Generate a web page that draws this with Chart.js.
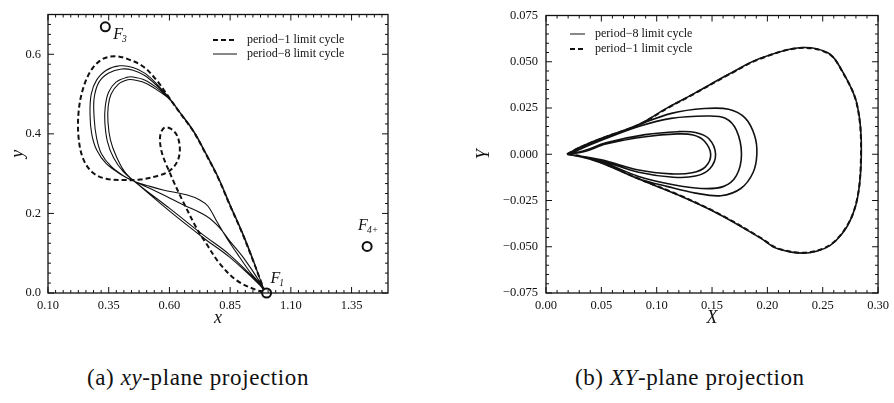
<!DOCTYPE html>
<html>
<head>
<meta charset="utf-8">
<script src="https://cdn.jsdelivr.net/npm/chart.js@4.4.1/dist/chart.umd.min.js"></script>
<style>
  body { margin: 0; background: #fff; width: 894px; height: 403px; position: relative; overflow: hidden; }
  .panel { position: absolute; top: 0; width: 447px; height: 330px; }
  .caption { position: absolute; top: 365px; line-height: 26px; font-family: 'Liberation Serif', serif; font-size: 23px; letter-spacing: 0.6px; color: #111; white-space: nowrap; }
</style>
</head>
<body>
<div class="panel" style="left:0"><canvas id="xyChart"></canvas></div>
<div class="panel" style="left:447px"><canvas id="bigXYChart"></canvas></div>
<div class="caption" style="left:87px">(a) <i>xy</i>-plane projection</div>
<div class="caption" style="left:575px">(b) <i>XY</i>-plane projection</div>

<script>
// ---- (a) xy-plane ----
const xTicksA = [0.10, 0.35, 0.60, 0.85, 1.10, 1.35];
const yTicksA = [0.0, 0.2, 0.4, 0.6];

// period-1 limit cycle (one closed orbit through F1)
const p1xA = [0.993, 0.97, 0.944, 0.90, 0.848, 0.80, 0.746, 0.70, 0.643, 0.60, 0.547, 0.49, 0.424, 0.376, 0.325, 0.28, 0.245, 0.226, 0.226, 0.245, 0.285, 0.34, 0.41, 0.478, 0.561, 0.60, 0.632, 0.643, 0.632, 0.605, 0.578, 0.562, 0.566, 0.585, 0.60, 0.615, 0.656, 0.711, 0.753, 0.807, 0.876, 0.958, 0.993];
const p1yA = [0.003, 0.04, 0.082, 0.15, 0.222, 0.29, 0.354, 0.405, 0.453, 0.49, 0.535, 0.57, 0.589, 0.595, 0.588, 0.562, 0.515, 0.455, 0.39, 0.337, 0.302, 0.287, 0.284, 0.285, 0.296, 0.307, 0.33, 0.36, 0.395, 0.413, 0.415, 0.395, 0.36, 0.325, 0.305, 0.283, 0.23, 0.164, 0.123, 0.074, 0.032, 0.0074, 0.003];

// period-8 limit cycle, loops split by null
const p8xA = [
  0.993, 0.97, 0.944, 0.90, 0.848, 0.80, 0.746, 0.70, 0.643, 0.60, 0.55, 0.50, 0.45, 0.396, 0.34, 0.30, 0.278, 0.273, 0.28, 0.30, 0.34, 0.40, 0.455, 0.52, 0.574, 0.67, 0.725, 0.759, 0.794, 0.835, 0.889, 0.935, 0.972, 0.993, null,
  0.993, 0.97, 0.945, 0.901, 0.85, 0.802, 0.748, 0.702, 0.645, 0.60, 0.55, 0.50, 0.45, 0.403, 0.35, 0.31, 0.29, 0.29, 0.30, 0.32, 0.36, 0.41, 0.455, 0.561, 0.656, 0.753, 0.807, 0.848, 0.903, 0.972, 0.993, null,
  0.993, 0.97, 0.944, 0.90, 0.848, 0.80, 0.746, 0.70, 0.643, 0.60, 0.55, 0.50, 0.45, 0.424, 0.38, 0.35, 0.336, 0.334, 0.345, 0.37, 0.41, 0.455, 0.602, 0.739, 0.848, 0.972, 0.993, null,
  0.993, 0.97, 0.946, 0.902, 0.85, 0.802, 0.748, 0.702, 0.645, 0.60, 0.55, 0.50, 0.45, 0.428, 0.39, 0.36, 0.348, 0.347, 0.357, 0.38, 0.415, 0.455, 0.602, 0.739, 0.848, 0.972, 0.993
];
const p8yA = [
  0.003, 0.04, 0.082, 0.15, 0.222, 0.29, 0.354, 0.405, 0.453, 0.49, 0.524, 0.552, 0.567, 0.571, 0.56, 0.535, 0.50, 0.45, 0.40, 0.36, 0.325, 0.298, 0.281, 0.268, 0.259, 0.247, 0.234, 0.218, 0.181, 0.139, 0.090, 0.05, 0.024, 0.003, null,
  0.003, 0.04, 0.082, 0.15, 0.222, 0.29, 0.354, 0.405, 0.453, 0.489, 0.52, 0.546, 0.56, 0.563, 0.553, 0.53, 0.49, 0.44, 0.39, 0.35, 0.318, 0.295, 0.281, 0.251, 0.222, 0.193, 0.164, 0.131, 0.090, 0.028, 0.003, null,
  0.003, 0.04, 0.082, 0.15, 0.222, 0.29, 0.354, 0.405, 0.453, 0.488, 0.515, 0.535, 0.543, 0.542, 0.53, 0.505, 0.47, 0.43, 0.38, 0.34, 0.305, 0.281, 0.205, 0.139, 0.09, 0.02, 0.003, null,
  0.003, 0.04, 0.082, 0.15, 0.222, 0.29, 0.354, 0.405, 0.453, 0.487, 0.51, 0.528, 0.536, 0.536, 0.525, 0.50, 0.47, 0.43, 0.385, 0.345, 0.305, 0.281, 0.212, 0.146, 0.096, 0.022, 0.003
];

// fixed points
const fNamesA = ['3', '1', '4+'];
const fxA = [0.336, 1.0, 1.414];
const fyA = [0.669, 0.0, 0.117];

// ---- (b) XY-plane ----
const xTicksB = [0.00, 0.05, 0.10, 0.15, 0.20, 0.25, 0.30];
const yTicksB = [-0.075, -0.050, -0.025, 0.000, 0.025, 0.050, 0.075];

const p1XB = [0.019, 0.03, 0.05, 0.0837, 0.11, 0.134, 0.165, 0.193, 0.229, 0.255, 0.2674, 0.2807, 0.2846, 0.279, 0.2615, 0.238, 0.21, 0.1935, 0.1576, 0.12, 0.0837, 0.05, 0.0304, 0.019];
const p1YB = [0, 0.0035, 0.0085, 0.0159, 0.025, 0.0327, 0.043, 0.0515, 0.0574, 0.0545, 0.045, 0.0274, 0, -0.0291, -0.0467, -0.053, -0.051, -0.045, -0.0326, -0.022, -0.0132, -0.0045, -0.0009, 0];

const p8XB = [
  0.019, 0.03, 0.05, 0.0837, 0.11, 0.134, 0.165, 0.193, 0.229, 0.255, 0.2674, 0.2809, 0.2849, 0.2792, 0.2617, 0.238, 0.21, 0.1935, 0.1576, 0.12, 0.0837, 0.05, 0.0304, 0.019, null,
  0.02, 0.05, 0.0837, 0.1133, 0.143, 0.165, 0.18, 0.1885, 0.1905, 0.187, 0.176, 0.158, 0.135, 0.11, 0.0837, 0.05, 0.025, 0.02, null,
  0.02, 0.05, 0.0837, 0.113, 0.145, 0.162, 0.172, 0.1766, 0.172, 0.16, 0.14, 0.115, 0.0837, 0.05, 0.02, null,
  0.02, 0.035, 0.0541, 0.0896, 0.119, 0.135, 0.147, 0.1532, 0.148, 0.135, 0.115, 0.0837, 0.05, 0.02, null,
  0.02, 0.035, 0.0541, 0.0896, 0.119, 0.133, 0.143, 0.1488, 0.144, 0.132, 0.113, 0.0837, 0.05, 0.02
];
const p8YB = [
  0, 0.0037, 0.0087, 0.0161, 0.0252, 0.0329, 0.0432, 0.0517, 0.0576, 0.0547, 0.0452, 0.0274, 0, -0.0291, -0.0469, -0.0532, -0.0512, -0.0452, -0.0328, -0.0222, -0.0134, -0.0047, -0.001, 0, null,
  0, 0.008, 0.0159, 0.0221, 0.0247, 0.0243, 0.0195, 0.010, 0, -0.010, -0.0185, -0.0224, -0.021, -0.0175, -0.0132, -0.0045, -0.0005, 0, null,
  0, 0.0075, 0.015, 0.0194, 0.0207, 0.0195, 0.013, 0, -0.0115, -0.0175, -0.0185, -0.0165, -0.012, -0.004, 0, null,
  0, 0.002, 0.0062, 0.0106, 0.0122, 0.0118, 0.0085, 0, -0.0078, -0.0118, -0.0124, -0.0097, -0.0035, 0, null,
  0, 0.0015, 0.0055, 0.0095, 0.011, 0.0104, 0.0072, 0, -0.0068, -0.01, -0.0106, -0.0085, -0.003, 0
];

const INK = '#111';
const SERIF = "'Liberation Serif', 'Times New Roman', serif";

function pts(xs, ys) {
  return xs.map((x, i) => ({ x: x, y: ys[i] }));
}

// frame with inward ticks on all four sides, legend box and fixed-point labels
const decor = {
  id: 'decor',
  afterDatasetsDraw(chart, args, o) {
    const ctx = chart.ctx, a = chart.chartArea;
    const sx = chart.scales.x, sy = chart.scales.y;
    ctx.save();
    ctx.strokeStyle = INK;
    ctx.lineWidth = 1.3;
    ctx.strokeRect(a.left, a.top, a.right - a.left, a.bottom - a.top);

    ctx.lineWidth = 1;
    ctx.beginPath();
    function walk(scale, step, fn) {
      const majors = scale.ticks.map(t => t.value);
      let v = majors[0];
      while (v - step >= scale.min - 1e-9) v -= step;
      for (; v <= scale.max + 1e-9; v += step) {
        const major = majors.some(m => Math.abs(m - v) < step / 4);
        fn(scale.getPixelForValue(v), major ? 6 : 3);
      }
    }
    walk(sx, o.xMinor, (p, len) => {
      ctx.moveTo(p, a.bottom); ctx.lineTo(p, a.bottom - len);
      ctx.moveTo(p, a.top); ctx.lineTo(p, a.top + len);
    });
    walk(sy, o.yMinor, (p, len) => {
      ctx.moveTo(a.left, p); ctx.lineTo(a.left + len, p);
      ctx.moveTo(a.right, p); ctx.lineTo(a.right - len, p);
    });
    ctx.stroke();

    // legend
    const lg = o.legend;
    ctx.font = '12px ' + SERIF;
    ctx.fillStyle = INK;
    ctx.textBaseline = 'middle';
    lg.items.forEach((it, i) => {
      const y = lg.y + i * lg.gap;
      ctx.beginPath();
      ctx.lineWidth = it.width;
      ctx.setLineDash(it.dash);
      ctx.moveTo(lg.x, y); ctx.lineTo(lg.x + lg.len, y);
      ctx.stroke();
      ctx.setLineDash([]);
      ctx.fillText(it.text, lg.x + lg.len + 10, y);
    });

    // fixed point names
    if (o.names) {
      ctx.textBaseline = 'alphabetic';
      o.names.forEach((n, i) => {
        const px = sx.getPixelForValue(o.fx[i]) + o.offsets[i][0];
        const py = sy.getPixelForValue(o.fy[i]) + o.offsets[i][1];
        ctx.font = 'italic 16px ' + SERIF;
        ctx.fillText('F', px, py);
        const w = ctx.measureText('F').width;
        ctx.font = 'italic 9.5px ' + SERIF;
        ctx.fillText(n, px + w - 1, py + 3);
      });
    }
    ctx.restore();
  }
};

function axisTicks(list) {
  return s => { s.ticks = list.map(v => ({ value: v })); };
}

function tickFont() {
  return { family: SERIF, size: 12.5 };
}

function titleFont() {
  return { family: SERIF, size: 18, style: 'italic' };
}

// (a)
new Chart(document.getElementById('xyChart'), {
  type: 'scatter',
  data: {
    datasets: [
      {
        data: pts(fxA, fyA), showLine: false, clip: false,
        pointRadius: 4.5, pointBorderWidth: 2, pointBackgroundColor: '#fff', pointBorderColor: INK
      },
      {
        label: 'period-1 limit cycle', data: pts(p1xA, p1yA), showLine: true,
        borderColor: INK, borderWidth: 2, borderDash: [5, 3], pointRadius: 0, tension: 0.35
      },
      {
        label: 'period-8 limit cycle', data: pts(p8xA, p8yA), showLine: true,
        borderColor: INK, borderWidth: 1.1, pointRadius: 0, tension: 0.35
      }
    ]
  },
  options: {
    responsive: true, maintainAspectRatio: false, animation: false, events: [],
    layout: { padding: { top: 10, right: 59, left: 0, bottom: 0 } },
    plugins: {
      legend: { display: false }, tooltip: { enabled: false },
      decor: {
        xMinor: 0.03125, yMinor: 0.025,
        legend: { x: 213, y: 40, gap: 14, len: 24, items: [
          { text: 'period\u22121 limit cycle', dash: [5, 3], width: 2 },
          { text: 'period\u22128 limit cycle', dash: [], width: 1 }
        ] },
        names: fNamesA, fx: fxA, fy: fyA,
        offsets: [[8, 12], [4, -10], [-9, -16]]
      }
    },
    scales: {
      x: {
        type: 'linear', min: 0.10, max: 1.5,
        afterBuildTicks: axisTicks(xTicksA),
        afterFit: s => { s.height = 37; },
        grid: { display: false, drawTicks: false }, border: { display: false },
        ticks: { padding: 5, color: INK, font: tickFont(), autoSkip: false, maxRotation: 0, callback: v => v.toFixed(2) },
        title: { display: true, text: 'x', color: INK, font: titleFont(), padding: { top: 0, bottom: 1 } }
      },
      y: {
        type: 'linear', min: 0, max: 0.7,
        afterBuildTicks: axisTicks(yTicksA),
        afterFit: s => { s.width = 48; },
        grid: { display: false, drawTicks: false }, border: { display: false },
        ticks: { padding: 7, color: INK, font: tickFont(), autoSkip: false, callback: v => v.toFixed(1) },
        title: { display: true, text: 'y', color: INK, font: titleFont(), padding: { top: 7, bottom: 0 } }
      }
    }
  },
  plugins: [decor]
});

// (b)
new Chart(document.getElementById('bigXYChart'), {
  type: 'scatter',
  data: {
    datasets: [
      {
        label: 'period-8 limit cycle', data: pts(p8XB, p8YB), showLine: true,
        borderColor: INK, borderWidth: 1.6, pointRadius: 0, tension: 0.35
      },
      {
        label: 'period-1 limit cycle', data: pts(p1XB, p1YB), showLine: true,
        borderColor: INK, borderWidth: 2, borderDash: [5, 3], pointRadius: 0, tension: 0.35
      }
    ]
  },
  options: {
    responsive: true, maintainAspectRatio: false, animation: false, events: [],
    layout: { padding: { top: 10, right: 10, left: 0, bottom: 0 } },
    plugins: {
      legend: { display: false }, tooltip: { enabled: false },
      decor: {
        xMinor: 0.01, yMinor: 0.005,
        legend: { x: 123, y: 34, gap: 15, len: 15, items: [
          { text: 'period\u22128 limit cycle', dash: [], width: 1 },
          { text: 'period\u22121 limit cycle', dash: [5, 3], width: 2 }
        ] }
      }
    },
    scales: {
      x: {
        type: 'linear', min: 0, max: 0.30,
        afterBuildTicks: axisTicks(xTicksB),
        afterFit: s => { s.height = 37; },
        grid: { display: false, drawTicks: false }, border: { display: false },
        ticks: { padding: 5, color: INK, font: tickFont(), autoSkip: false, maxRotation: 0, callback: v => v.toFixed(2) },
        title: { display: true, text: 'X', color: INK, font: titleFont(), padding: { top: 0, bottom: 1 } }
      },
      y: {
        type: 'linear', min: -0.075, max: 0.075,
        afterBuildTicks: axisTicks(yTicksB),
        afterFit: s => { s.width = 99; },
        grid: { display: false, drawTicks: false }, border: { display: false },
        ticks: { padding: 8, color: INK, font: tickFont(), autoSkip: false,
          callback: v => (v < -1e-9 ? '\u2212' + (-v).toFixed(3) : Math.abs(v).toFixed(3)) },
        title: { display: true, text: 'Y', color: INK, font: titleFont(), padding: { top: 26, bottom: 0 } }
      }
    }
  },
  plugins: [decor]
});
</script>
</body>
</html>
